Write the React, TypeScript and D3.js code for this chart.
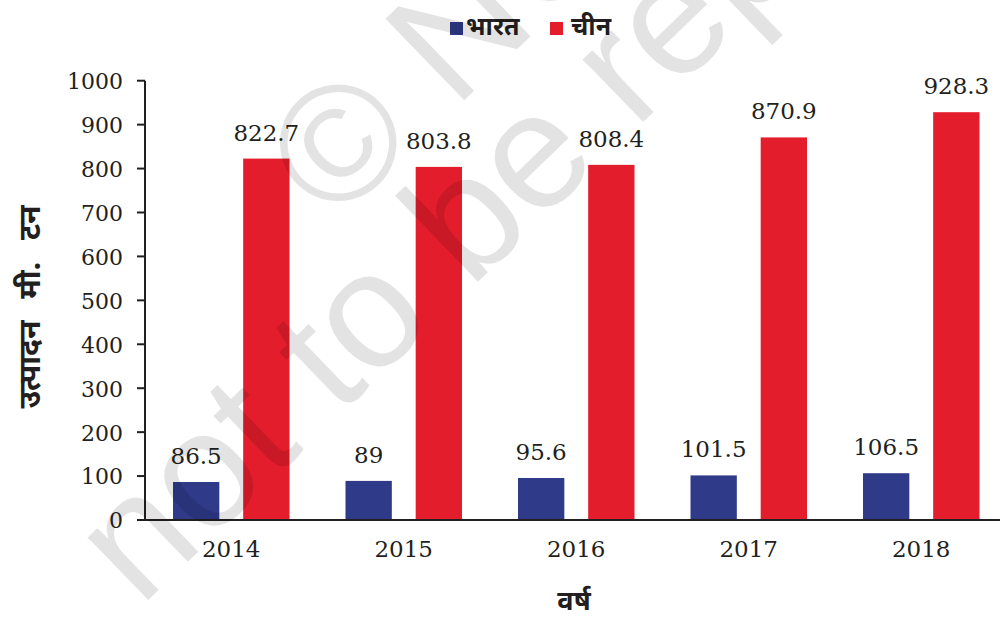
import React from "react";
import * as d3 from "d3";

const years = ["2014", "2015", "2016", "2017", "2018"];
const india = [86.5, 89, 95.6, 101.5, 106.5];
const china = [822.7, 803.8, 808.4, 870.9, 928.3];
const seriesNames = ["भारत", "चीन"];
const seriesColors = ["#2f3a88", "#e31d2b"];
const yTicks = [0, 100, 200, 300, 400, 500, 600, 700, 800, 900, 1000];
const yTitle = "उत्पादन मी. टन";
const xTitle = "वर्ष";

const W = 1000;
const H = 621;
const deva = "'Noto Sans Devanagari', 'Lohit Devanagari', 'Noto Sans', sans-serif";
const serif = "'DejaVu Serif', serif";

export default function App() {
  const x = d3.scaleBand<string>().domain(years).range([145, 1007.5]).padding(0);
  const inner = d3
    .scaleBand<string>()
    .domain(["0", "1"])
    .range([28, x.bandwidth() - 28])
    .paddingInner(0.34);
  const y = d3.scaleLinear().domain([0, 1000]).range([520, 80.7]);
  const data = [india, china];

  return (
    <svg
      width={W}
      height={H}
      style={{ position: "absolute", left: 0, top: 0, background: "#fff" }}
    >
      <rect x={0} y={0} width={W} height={H} fill="#fff" />
      {/* bars */}
      {years.map((yr, i) => (
        <g key={yr}>
          {data.map((s, k) => (
            <rect
              key={k}
              x={(x(yr) as number) + (inner(String(k)) as number)}
              y={y(s[i])}
              width={inner.bandwidth()}
              height={y(0) - y(s[i])}
              fill={seriesColors[k]}
            />
          ))}
          {data.map((s, k) => (
            <text
              key={"l" + k}
              x={(x(yr) as number) + (inner(String(k)) as number) + inner.bandwidth() / 2}
              y={y(s[i]) - 18}
              textAnchor="middle"
              fontFamily={serif}
              fontSize={23}
              fill="#231f20"
            >
              {String(s[i])}
            </text>
          ))}
          <text
            x={(x(yr) as number) + x.bandwidth() / 2}
            y={557}
            textAnchor="middle"
            fontFamily={serif}
            fontSize={23}
            fill="#231f20"
          >
            {yr}
          </text>
        </g>
      ))}
      {/* y axis */}
      <line x1={145} x2={145} y1={y(1000)} y2={y(0) + 1} stroke="#231f20" strokeWidth={2} />
      {yTicks.map((t) => (
        <g key={t}>
          <line x1={137} x2={145} y1={y(t)} y2={y(t)} stroke="#231f20" strokeWidth={2} />
          <text
            x={123}
            y={y(t)}
            dy="0.38em"
            textAnchor="end"
            fontFamily={serif}
            fontSize={22}
            fill="#231f20"
          >
            {t}
          </text>
        </g>
      ))}
      <line x1={137} x2={1000} y1={y(0)} y2={y(0)} stroke="#231f20" strokeWidth={2} />
      {/* titles */}
      <text
        transform={`translate(40,307) rotate(-90)`}
        textAnchor="middle"
        fontFamily={deva}
        fontWeight="bold"
        fontSize={30}
        wordSpacing={14}
        fill="#231f20"
      >
        {yTitle}
      </text>
      <text
        x={574}
        y={610}
        textAnchor="middle"
        fontFamily={deva}
        fontWeight="bold"
        fontSize={27}
        fill="#231f20"
      >
        {xTitle}
      </text>
      {/* legend */}
      <rect x={450} y={22} width={13} height={13} fill={seriesColors[0]} />
      <text x={466} y={35} fontFamily={deva} fontWeight="bold" fontSize={25} fill="#231f20">
        {seriesNames[0]}
      </text>
      <rect x={550} y={22} width={13} height={13} fill={seriesColors[1]} />
      <text x={571} y={35} fontFamily={deva} fontWeight="bold" fontSize={25} fill="#231f20">
        {seriesNames[1]}
      </text>
      {/* watermark */}
      <g
        transform="translate(140,608) rotate(-44)"
        fontFamily="'Liberation Sans', Arial, sans-serif"
        fontSize={165}
        fill="#000"
        fillOpacity={0.11}
      >
        <text x={405} y={-140}>© NCERT</text>
        <text x={0} y={0}>not to be republished</text>
      </g>
    </svg>
  );
}
